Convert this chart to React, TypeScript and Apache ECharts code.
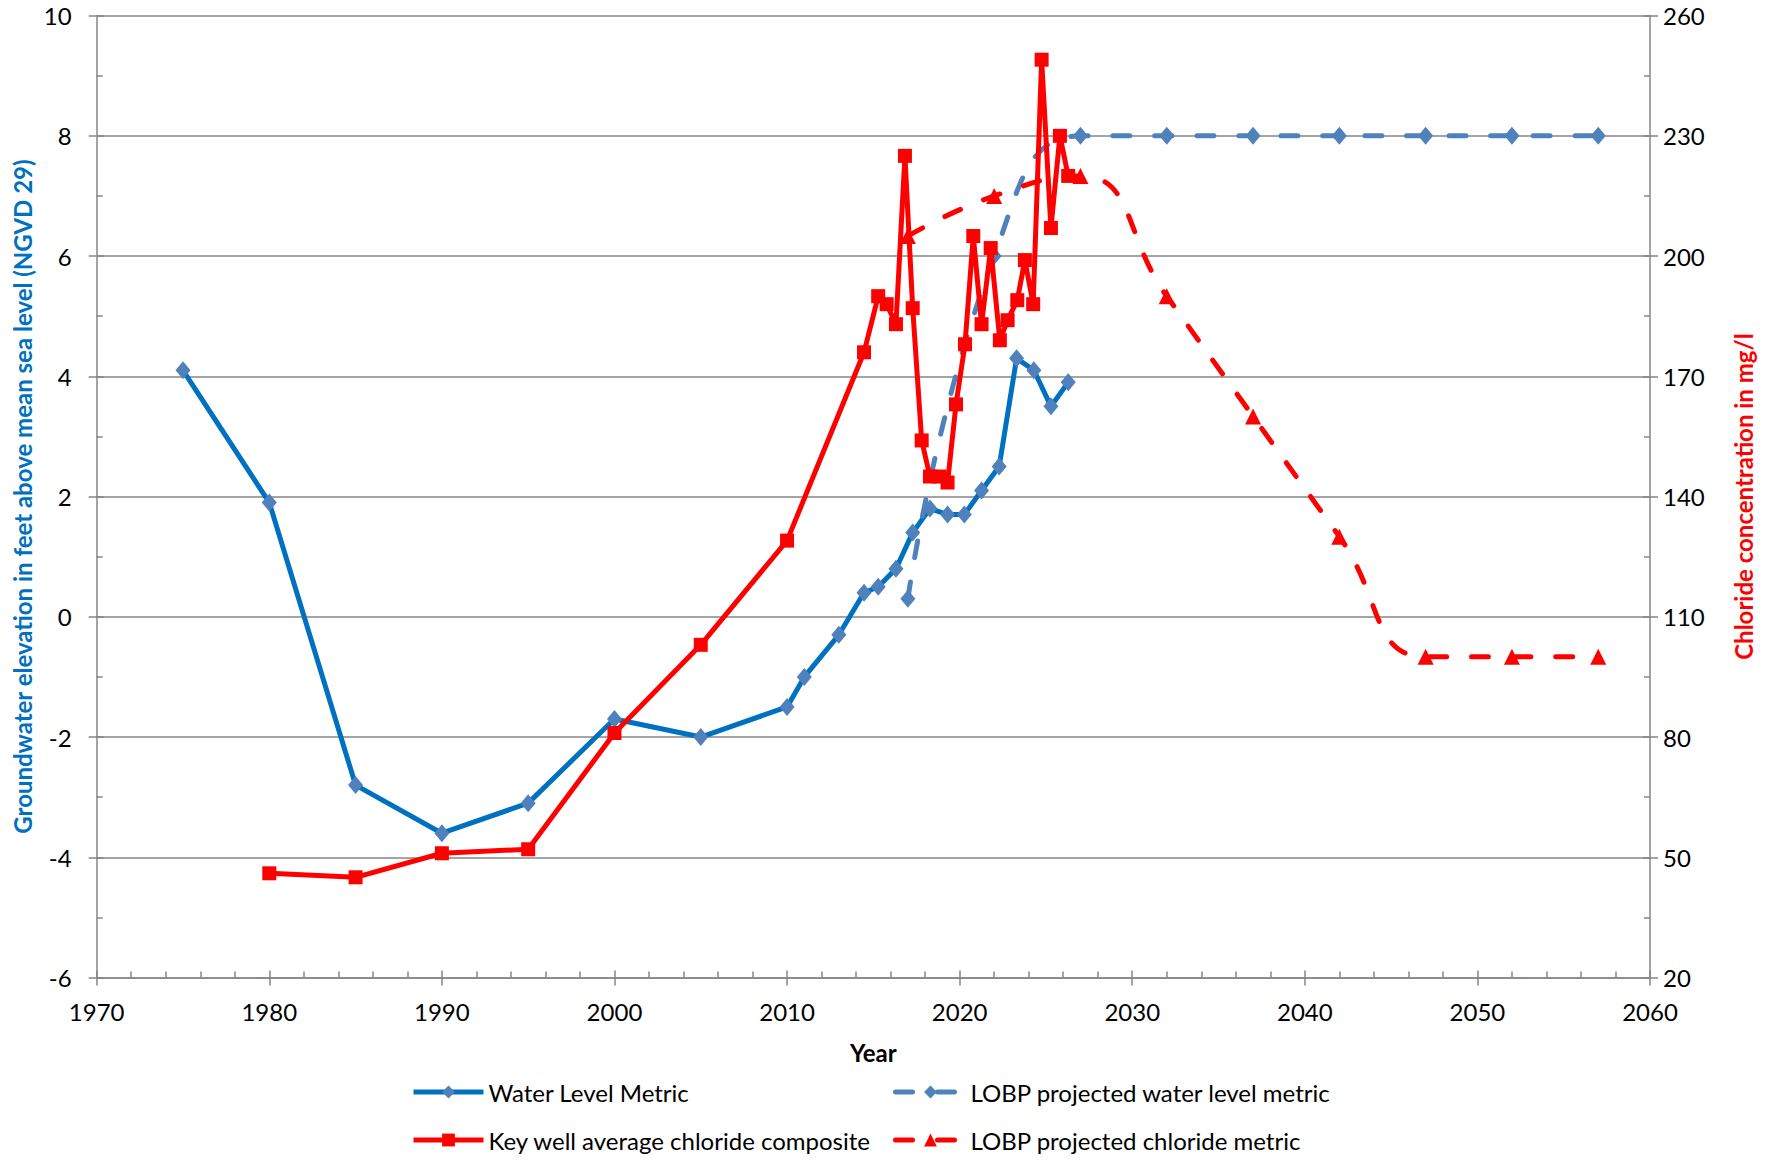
import React, { useEffect, useRef } from "react";
import * as echarts from "echarts";

const FONT = "Lato";

const yearTicks = { min: 1970, max: 2060, interval: 10 };
const waterAxis = { min: -6, max: 10, interval: 2 };
const chlorideAxis = { min: 20, max: 260, interval: 30 };

const waterYears = [1975, 1980, 1985, 1990, 1995, 2000, 2005, 2010, 2011, 2013, 2014.46, 2015.28, 2016.31, 2017.28, 2018.28, 2019.3, 2020.27, 2021.27, 2022.29, 2023.3, 2024.3, 2025.29, 2026.29];
const waterLevels = [4.1, 1.9, -2.8, -3.6, -3.1, -1.7, -2.0, -1.5, -1.0, -0.3, 0.4, 0.5, 0.8, 1.4, 1.8, 1.7, 1.7, 2.1, 2.5, 4.3, 4.1, 3.5, 3.9];

const projWaterYears = [2017, 2022, 2027, 2032, 2037, 2042, 2047, 2052, 2057];
const projWaterLevels = [0.3, 6.0, 8, 8, 8, 8, 8, 8, 8];

const chlorideYears = [1980, 1985, 1990, 1995, 2000, 2005, 2010, 2014.46, 2015.28, 2015.77, 2016.31, 2016.83, 2017.28, 2017.8, 2018.28, 2018.82, 2019.3, 2019.79, 2020.31, 2020.79, 2021.27, 2021.8, 2022.33, 2022.78, 2023.34, 2023.78, 2024.26, 2024.75, 2025.29, 2025.81, 2026.29];
const chlorideValues = [46, 45, 51, 52, 81, 103, 129, 176, 190, 188, 183, 225, 187, 154, 145, 145, 143.5, 163, 178, 205, 183, 202, 179, 184, 189, 199, 188, 249, 207, 230, 220];

const projChlorideYears = [2017, 2022, 2027, 2032, 2037, 2042, 2047, 2052, 2057];
const projChlorideValues = [205, 215, 220, 190, 160, 130, 100, 100, 100];

const names = {
  water: "Water Level Metric",
  projWater: "LOBP projected water level metric",
  chloride: "Key well average chloride composite",
  projChloride: "LOBP projected chloride metric",
};

const pairs = (xs: number[], ys: number[]) => xs.map((x, i) => [x, ys[i]]);

const AXIS_GRAY = "#868686";
const BLUE = "#0070C0";
const BLUE_LIGHT = "#4F81BD";
const RED = "#FF0000";
const LINE_W = 5;

export default function App() {
  const ref = useRef<HTMLDivElement>(null);

  useEffect(() => {
    if (!ref.current) return;
    const chart = echarts.init(ref.current, null, { renderer: "svg" });

    const plain = (v: number) => String(v);
    const labelStyle = { fontFamily: FONT, fontSize: 24, color: "#000", formatter: plain };
    const legendBase = {
      orient: "horizontal",
      padding: 0,
      itemWidth: 70,
      itemHeight: 16,
      itemGap: 0,
      selectedMode: false,
      lineStyle: { width: LINE_W },
      textStyle: { fontFamily: FONT, fontSize: 24, color: "#000" },
    };

    const option: any = {
      animation: false,
      backgroundColor: "#fff",
      textStyle: { fontFamily: FONT },
      grid: {
        left: 96.7,
        right: 119,
        top: 15.6,
        bottom: 182.5,
        containLabel: false,
        outerBoundsMode: "none",
      },
      legend: [
        { ...legendBase, data: [names.water], left: 411, top: 1080 },
        { ...legendBase, data: [names.projWater], left: 893, top: 1080 },
        { ...legendBase, data: [names.chloride], left: 411, top: 1128 },
        { ...legendBase, data: [names.projChloride], left: 893, top: 1128 },
      ],
      xAxis: [
        {
          type: "value",
          ...yearTicks,
          position: "bottom",
          name: "Year",
          nameLocation: "middle",
          nameGap: 63,
          nameMoveOverlap: false,
          nameTextStyle: { fontFamily: FONT, fontSize: 24, fontWeight: "bold", color: "#000" },
          axisLine: { show: true, onZero: false, lineStyle: { color: AXIS_GRAY, width: 1.5 } },
          axisTick: { show: true, inside: false, length: 8, lineStyle: { color: AXIS_GRAY, width: 1.5 } },
          minorTick: { show: false },
          axisLabel: { ...labelStyle, margin: 22 },
          splitLine: { show: false },
        },
        {
          type: "value",
          ...yearTicks,
          position: "bottom",
          axisLine: { show: false, onZero: false },
          axisTick: { show: true, inside: true, length: 7, lineStyle: { color: AXIS_GRAY, width: 1.5 } },
          minorTick: { show: true, splitNumber: 5, length: 6, lineStyle: { color: AXIS_GRAY, width: 1.5 } },
          axisLabel: { show: false },
          splitLine: { show: false },
        },
      ],
      yAxis: [
        {
          type: "value",
          ...waterAxis,
          position: "left",
          name: "Groundwater elevation in feet above mean sea level (NGVD 29)",
          nameLocation: "middle",
          nameRotate: 90,
          nameGap: 62,
          nameMoveOverlap: false,
          nameTextStyle: { fontFamily: FONT, fontSize: 24, fontWeight: "bold", color: BLUE },
          axisLine: { show: true, onZero: false, lineStyle: { color: AXIS_GRAY, width: 1.5 } },
          axisTick: { show: true, inside: false, length: 8, lineStyle: { color: AXIS_GRAY, width: 1.5 } },
          axisLabel: { ...labelStyle, margin: 25 },
          splitLine: { show: true, lineStyle: { color: AXIS_GRAY, width: 1.5 } },
        },
        {
          type: "value",
          ...chlorideAxis,
          position: "right",
          name: "Chloride concentration in mg/l",
          nameLocation: "middle",
          nameRotate: 90,
          nameGap: 81,
          nameMoveOverlap: false,
          nameTextStyle: { fontFamily: FONT, fontSize: 24, fontWeight: "bold", color: RED },
          axisLine: { show: true, onZero: false, lineStyle: { color: AXIS_GRAY, width: 1.5 } },
          axisTick: { show: true, inside: false, length: 8, lineStyle: { color: AXIS_GRAY, width: 1.5 } },
          axisLabel: { ...labelStyle, margin: 13 },
          splitLine: { show: false },
        },
        {
          type: "value",
          ...waterAxis,
          position: "left",
          axisLine: { show: false, onZero: false },
          axisTick: { show: true, inside: true, length: 7, lineStyle: { color: AXIS_GRAY, width: 1.5 } },
          minorTick: { show: true, splitNumber: 2, length: 6, lineStyle: { color: AXIS_GRAY, width: 1.5 } },
          axisLabel: { show: false },
          splitLine: { show: false },
        },
        {
          type: "value",
          ...chlorideAxis,
          position: "right",
          axisLine: { show: false, onZero: false },
          axisTick: { show: true, inside: true, length: 7, lineStyle: { color: AXIS_GRAY, width: 1.5 } },
          minorTick: { show: true, splitNumber: 2, length: 6, lineStyle: { color: AXIS_GRAY, width: 1.5 } },
          axisLabel: { show: false },
          splitLine: { show: false },
        },
      ],
      series: [
        {
          name: names.water,
          type: "line",
          xAxisIndex: 0,
          yAxisIndex: 0,
          data: pairs(waterYears, waterLevels),
          symbol: "diamond",
          symbolSize: [15, 18],
          lineStyle: { color: BLUE, width: LINE_W },
          itemStyle: { color: BLUE_LIGHT },
          z: 2,
        },
        {
          name: names.projWater,
          type: "line",
          xAxisIndex: 0,
          yAxisIndex: 0,
          data: pairs(projWaterYears, projWaterLevels),
          smooth: 0.5,
          symbol: "diamond",
          symbolSize: [15, 18],
          lineStyle: { color: BLUE_LIGHT, width: LINE_W, type: [17, 25], cap: "round" },
          itemStyle: { color: BLUE_LIGHT },
          z: 3,
        },
        {
          name: names.projChloride,
          type: "line",
          xAxisIndex: 0,
          yAxisIndex: 1,
          data: pairs(projChlorideYears, projChlorideValues),
          smooth: 0.5,
          symbol: "triangle",
          symbolSize: 16,
          lineStyle: { color: RED, width: LINE_W, type: [17, 25], cap: "round" },
          itemStyle: { color: RED },
          z: 4,
        },
        {
          name: names.chloride,
          type: "line",
          xAxisIndex: 0,
          yAxisIndex: 1,
          data: pairs(chlorideYears, chlorideValues),
          symbol: "rect",
          symbolSize: 14,
          lineStyle: { color: RED, width: LINE_W },
          itemStyle: { color: RED },
          z: 5,
        },
      ],
    };

    chart.setOption(option);
    return () => chart.dispose();
  }, []);

  return (
    <div
      ref={ref}
      style={{ position: "fixed", left: 0, top: 0, width: 1769, height: 1160, background: "#fff" }}
    />
  );
}
